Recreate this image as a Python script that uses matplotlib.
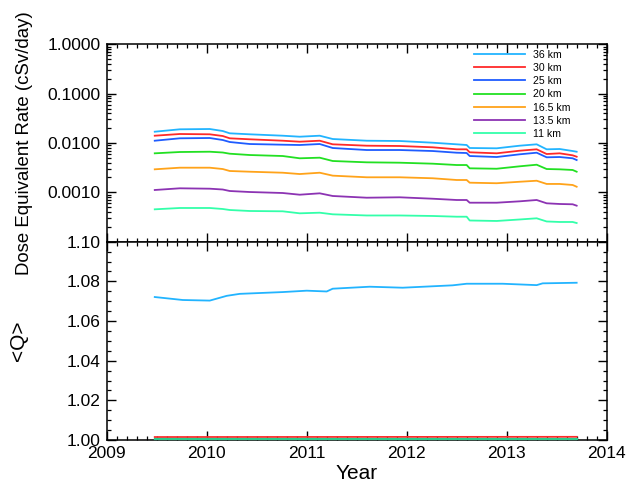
import numpy as np
import matplotlib
matplotlib.use("Agg")
from matplotlib import pyplot as plt
from matplotlib.ticker import MultipleLocator, LogLocator, FixedLocator, FormatStrFormatter, NullFormatter

plt.rcParams['font.family'] = ['Liberation Sans', 'DejaVu Sans']

# sample times (decimal year)
years = [2009.48, 2009.73, 2010.03, 2010.16, 2010.23, 2010.43, 2010.76, 2010.93,
         2011.13, 2011.26, 2011.60, 2011.93, 2012.26, 2012.50, 2012.60, 2012.63,
         2012.90, 2013.13, 2013.30, 2013.40, 2013.53, 2013.66, 2013.70]

# dose equivalent rate, cSv/day
rate_36 = [0.01694, 0.01895, 0.01922, 0.01750, 0.01572, 0.01501, 0.01406, 0.01342,
           0.01406, 0.01205, 0.01113, 0.01098, 0.01014, 0.00941, 0.00911, 0.00792,
           0.00781, 0.00882, 0.00941, 0.00745, 0.00756, 0.00688, 0.00666]
rate_30 = [0.01406, 0.01522, 0.01501, 0.01386, 0.01245, 0.01189, 0.01113, 0.01063,
           0.01113, 0.00941, 0.00882, 0.00870, 0.00818, 0.00745, 0.00745, 0.00648,
           0.00618, 0.00698, 0.00745, 0.00598, 0.00618, 0.00563, 0.00528]
rate_25 = [0.01113, 0.01245, 0.01263, 0.01150, 0.01048, 0.00954, 0.00924, 0.00911,
           0.00954, 0.00792, 0.00721, 0.00721, 0.00688, 0.00636, 0.00627, 0.00545,
           0.00520, 0.00590, 0.00636, 0.00513, 0.00520, 0.00490, 0.00452]
rate_20 = [0.00618, 0.00657, 0.00666, 0.00642, 0.00607, 0.00571, 0.00545, 0.00490,
           0.00504, 0.00432, 0.00406, 0.00399, 0.00381, 0.00358, 0.00358, 0.00307,
           0.00301, 0.00337, 0.00363, 0.00297, 0.00293, 0.00284, 0.00262]
rate_16 = [0.00293, 0.00316, 0.00316, 0.00297, 0.00271, 0.00262, 0.00250, 0.00235,
           0.00250, 0.00218, 0.00202, 0.00202, 0.00193, 0.00178, 0.00178, 0.00157,
           0.00153, 0.00164, 0.00172, 0.00148, 0.00148, 0.00141, 0.00130]
rate_13 = [0.001116, 0.001208, 0.001186, 0.001142, 0.001065, 0.001016, 0.000970, 0.000896,
           0.000956, 0.000844, 0.000779, 0.000794, 0.000743, 0.000700, 0.000700, 0.000617,
           0.000617, 0.000658, 0.000700, 0.000600, 0.000581, 0.000573, 0.000537]
rate_11 = [0.000453, 0.000482, 0.000482, 0.000460, 0.000439, 0.000419, 0.000413, 0.000376,
           0.000387, 0.000359, 0.000340, 0.000340, 0.000332, 0.000321, 0.000321, 0.000269,
           0.000263, 0.000282, 0.000298, 0.000257, 0.000251, 0.000251, 0.000239]

# mean quality factor <Q>
q_years = [2009.48, 2009.76, 2010.03, 2010.20, 2010.33, 2010.76, 2011.00, 2011.20, 2011.26,
           2011.63, 2011.96, 2012.46, 2012.60, 2012.96, 2013.30, 2013.36, 2013.70]
q_36 = [1.0721, 1.0706, 1.0703, 1.0727, 1.0737, 1.0746, 1.0753, 1.0749, 1.0763,
        1.0773, 1.0768, 1.0780, 1.0788, 1.0788, 1.0781, 1.0790, 1.0793]
q_flat_years = [2009.48, 2013.70]
q_30 = [1.0015, 1.0016]
q_low = [1.0003, 1.0003]

labels = ['36 km', '30 km', '25 km', '20 km', '16.5 km', '13.5 km', '11 km']
colors = ['#22B4FF', '#FF2A2A', '#1F5CFF', '#22E022', '#FFA31A', '#8C33B3', '#33FFAA']
rates = [rate_36, rate_30, rate_25, rate_20, rate_16, rate_13, rate_11]

fig = plt.figure(figsize=(6.28, 4.87), dpi=100)
ax1 = fig.add_axes([0.170, 0.5037, 0.796, 0.4053])
ax2 = fig.add_axes([0.170, 0.0965, 0.796, 0.4072])

for r, c, lab in zip(rates, colors, labels):
    ax1.plot(years, r, color=c, lw=1.3, label=lab)

ax1.set_yscale('log')
ax1.set_ylim(1e-4, 1.0)
ax1.yaxis.set_major_locator(FixedLocator([1e-4, 1e-3, 1e-2, 1e-1, 1.0]))
ax1.yaxis.set_minor_locator(LogLocator(base=10, subs=np.arange(2, 10), numticks=20))
ax1.yaxis.set_minor_formatter(NullFormatter())
ax1.set_yticklabels(['', '0.0010', '0.0100', '0.1000', '1.0000'])
ax1.set_ylabel('Dose Equivalent Rate (cSv/day)', fontsize=13.4)
ax1.yaxis.set_label_coords(-0.147, 0.5)
ax1.tick_params(labelbottom=False)

ax1.legend(loc='upper left', bbox_to_anchor=(0.735, 0.972), frameon=False,
           fontsize=7.6, handlelength=4.8, handletextpad=0.75, labelspacing=0.3,
           borderpad=0, borderaxespad=0)

ax2.plot(q_years, q_36, color=colors[0], lw=1.3)
ax2.plot(q_flat_years, q_30, color=colors[1], lw=1.3)
ax2.plot(q_flat_years, q_low, color='#2CC98A', lw=1.6, clip_on=False, zorder=3)
ax2.set_ylim(1.0, 1.1)
ax2.yaxis.set_major_locator(MultipleLocator(0.02))
ax2.yaxis.set_minor_locator(MultipleLocator(0.005))
ax2.yaxis.set_major_formatter(FormatStrFormatter('%.2f'))
ax2.set_ylabel('<Q>', fontsize=15)
ax2.yaxis.set_label_coords(-0.157, 0.5)
ax2.set_xlabel('Year', fontsize=15, labelpad=2)

for ax in (ax1, ax2):
    ax.set_xlim(2009, 2014)
    ax.xaxis.set_major_locator(MultipleLocator(1))
    ax.xaxis.set_minor_locator(MultipleLocator(0.1))
    ax.xaxis.set_major_formatter(FormatStrFormatter('%d'))
    ax.tick_params(which='both', direction='in', top=True, right=True, labelsize=12.5, pad=4.5)
    ax.tick_params(which='major', length=6.5, width=1.0)
    ax.tick_params(which='minor', length=3.2, width=0.9)
    for s in ax.spines.values():
        s.set_linewidth(1.1)

fig.savefig('out.png', dpi=100)
